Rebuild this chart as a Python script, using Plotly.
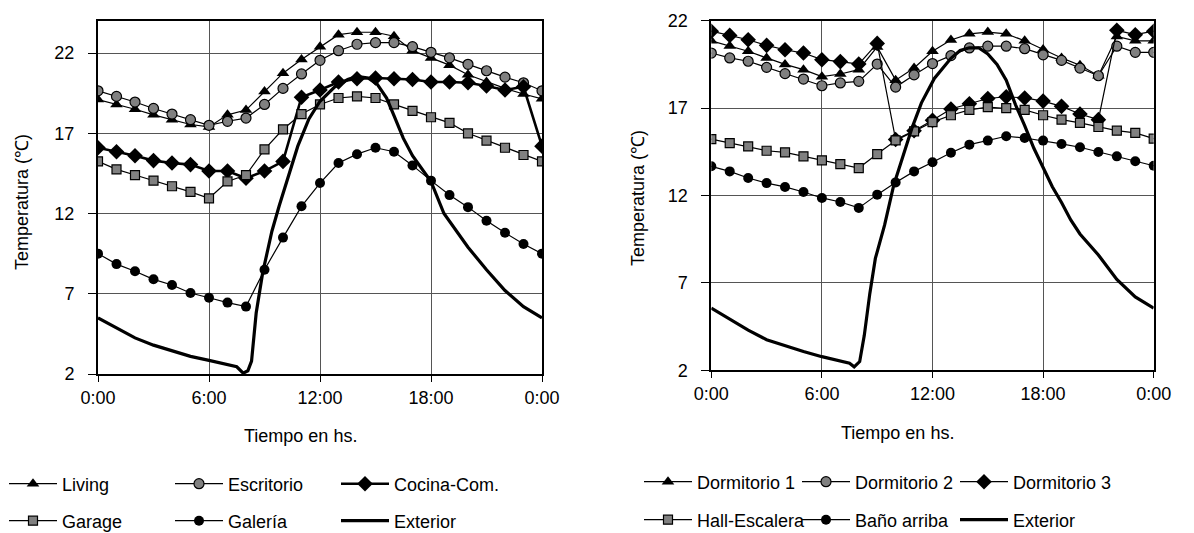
import plotly.graph_objects as go

# ---------------- data ----------------
hours = list(range(25))
tick_vals = [0, 6, 12, 18, 24]
tick_text = ["0:00", "6:00", "12:00", "18:00", "0:00"]
y_ticks_left = [2, 7, 12, 17, 22]
y_ticks_right = [2, 7, 12, 17, 22]

# Left chart (planta baja)
living = [19.1, 18.8, 18.5, 18.15, 17.85, 17.55, 17.4, 18.15, 18.45, 19.6, 20.75, 21.6, 22.4,
          23.15, 23.3, 23.3, 23.05, 22.15, 21.7, 21.25, 20.65, 20.2, 19.8, 19.45, 19.15]
escritorio = [19.65, 19.3, 18.95, 18.55, 18.2, 17.85, 17.5, 17.75, 17.95, 18.8, 19.8, 20.7, 21.55,
              22.15, 22.55, 22.65, 22.65, 22.4, 22.05, 21.7, 21.3, 20.9, 20.5, 20.15, 19.65]
cocina = [16.1, 15.85, 15.6, 15.3, 15.15, 15.05, 14.65, 14.65, 14.2, 14.65, 15.25, 19.25, 19.7,
          20.2, 20.4, 20.45, 20.4, 20.35, 20.2, 20.2, 20.15, 19.95, 19.7, 19.9, 16.2]
garage = [15.25, 14.75, 14.4, 14.05, 13.7, 13.35, 12.95, 14.0, 14.4, 16.0, 17.25, 18.2, 18.8,
          19.2, 19.3, 19.2, 18.8, 18.4, 18.0, 17.65, 17.0, 16.55, 16.1, 15.65, 15.25]
galeria = [9.5, 8.85, 8.4, 7.9, 7.55, 7.05, 6.75, 6.45, 6.2, 8.5, 10.5, 12.45, 13.9,
           15.15, 15.7, 16.1, 15.85, 15.0, 14.05, 13.15, 12.4, 11.55, 10.8, 10.1, 9.5]
ext_left_h = [0, 1, 2, 3, 4, 5, 6, 7, 7.5, 7.85, 8.1, 8.3, 8.55, 8.9, 9.4, 9.8, 10.3, 10.8, 11.4,
              12.0, 12.8, 13.5, 14.0, 14.6, 15.1, 15.6, 16.0, 16.5, 17.0, 17.5, 18.0, 18.7, 19.3,
              20.0, 21.0, 22.0, 23.0, 24.0]
ext_left_v = [5.5, 4.9, 4.25, 3.8, 3.45, 3.1, 2.85, 2.6, 2.45, 2.05, 2.2, 2.8, 5.8, 8.3, 10.9,
              12.5, 14.4, 16.2, 17.9, 19.0, 19.9, 20.35, 20.55, 20.45, 20.05, 19.2, 18.1, 16.7,
              15.6, 14.8, 14.0, 12.0, 11.0, 9.9, 8.5, 7.2, 6.2, 5.5]

# Right chart (planta alta)
dorm1 = [20.85, 20.55, 20.25, 19.87, 19.5, 19.2, 18.8, 18.95, 19.2, 20.5, 18.6, 19.3, 20.25,
         20.9, 21.25, 21.35, 21.25, 20.85, 20.35, 19.87, 19.45, 18.85, 21.1, 20.85, 20.85]
dorm2 = [20.15, 19.87, 19.68, 19.33, 18.97, 18.66, 18.28, 18.44, 18.53, 19.52, 18.2, 18.9, 19.55,
         20.0, 20.44, 20.54, 20.54, 20.4, 20.05, 19.73, 19.29, 18.85, 20.54, 20.19, 20.19]
dorm3 = [21.4, 21.16, 20.91, 20.59, 20.34, 20.15, 19.77, 19.66, 19.52, 20.7, 15.2, 15.7, 16.3,
         16.95, 17.25, 17.55, 17.65, 17.58, 17.4, 17.1, 16.66, 16.34, 21.45, 21.2, 21.4]
hall = [15.23, 15.0, 14.81, 14.56, 14.47, 14.24, 14.01, 13.8, 13.57, 14.37, 15.15, 15.67, 16.2,
        16.59, 16.9, 17.06, 17.0, 16.9, 16.59, 16.34, 16.15, 15.92, 15.71, 15.58, 15.25]
bano = [13.67, 13.38, 13.0, 12.71, 12.49, 12.2, 11.86, 11.63, 11.29, 12.05, 12.75, 13.38, 13.9,
        14.45, 14.91, 15.14, 15.39, 15.29, 15.14, 14.95, 14.76, 14.49, 14.24, 13.96, 13.7]
ext_right_h = [0, 1, 2, 3, 4, 5, 6, 7, 7.5, 7.75, 8.05, 8.3, 8.6, 8.9, 9.4, 9.9, 10.4, 10.9, 11.4,
               12.1, 13.0, 13.5, 14.0, 14.5, 15.0, 15.5, 16.0, 16.5, 17.0, 17.5, 18.0, 18.5,
               19.0, 19.5, 20.0, 21.0, 22.0, 23.0, 24.0]
ext_right_v = [5.56, 4.95, 4.3, 3.75, 3.4, 3.08, 2.78, 2.55, 2.4, 2.2, 2.5, 4.0, 6.4, 8.4, 10.3,
               12.6, 14.3, 15.9, 17.3, 18.7, 19.85, 20.3, 20.45, 20.45, 20.1, 19.5, 18.6, 17.2,
               16.0, 14.7, 13.6, 12.5, 11.6, 10.6, 9.8, 8.6, 7.2, 6.2, 5.56]

# ---------------- styles ----------------
FONT = "Liberation Sans, Arial, sans-serif"
GREY = "#808080"
BLACK = "#000000"

def tri():
    return dict(symbol="triangle-up", size=11, color=BLACK)

def gcirc():
    return dict(symbol="circle", size=10, color=GREY, line=dict(color=BLACK, width=1.2))

def diam():
    return dict(symbol="diamond", size=12, color=BLACK)

def gsq():
    return dict(symbol="square", size=9, color=GREY, line=dict(color=BLACK, width=1.2))

def bcirc():
    return dict(symbol="circle", size=10, color=BLACK)

fig = go.Figure()

def add(x, y, name, marker, width, xa, ya, leg, mode="lines+markers"):
    fig.add_trace(go.Scatter(
        x=x, y=y, name=name, mode=mode, xaxis=xa, yaxis=ya, legend=leg,
        line=dict(color=BLACK, width=width),
        marker=marker if marker else None,
    ))

# left chart
add(hours, living, "Living", tri(), 1.2, "x", "y", "legend")
add(hours, escritorio, "Escritorio", gcirc(), 1.2, "x", "y", "legend")
add(hours, cocina, "Cocina-Com.", diam(), 2.6, "x", "y", "legend")
add(hours, garage, "Garage", gsq(), 1.2, "x", "y", "legend2")
add(hours, galeria, "Galería", bcirc(), 1.2, "x", "y", "legend2")
add(ext_left_h, ext_left_v, "Exterior", None, 3.2, "x", "y", "legend2", mode="lines")

# right chart
add(hours, dorm1, "Dormitorio 1", tri(), 1.2, "x2", "y2", "legend3")
add(hours, dorm2, "Dormitorio 2", gcirc(), 1.2, "x2", "y2", "legend3")
add(hours, dorm3, "Dormitorio 3", diam(), 1.2, "x2", "y2", "legend3")
add(hours, hall, "Hall-Escalera", gsq(), 1.2, "x2", "y2", "legend4")
add(hours, bano, "Baño arriba", bcirc(), 1.2, "x2", "y2", "legend4")
add(ext_right_h, ext_right_v, "Exterior", None, 3.2, "x2", "y2", "legend4", mode="lines")

W, H = 1194, 533

def xax(domain):
    return dict(domain=domain, range=[0, 24], tickvals=tick_vals, ticktext=tick_text,
                showgrid=True, gridcolor="#555555", gridwidth=1, zeroline=False,
                showline=True, linecolor=BLACK, linewidth=2, mirror=True,
                ticks="outside", ticklen=6, tickcolor=BLACK, tickwidth=1,
                ticklabelstandoff=0,
                tickfont=dict(family=FONT, size=18, color=BLACK))

def yax(domain, rng, tv, anchor):
    return dict(domain=domain, range=rng, tickvals=tv, anchor=anchor,
                showgrid=True, gridcolor="#555555", gridwidth=1, zeroline=False,
                showline=True, linecolor=BLACK, linewidth=2, mirror=True,
                ticks="outside", ticklen=8, tickcolor=BLACK, tickwidth=1,
                ticklabelstandoff=10,
                tickfont=dict(family=FONT, size=18, color=BLACK))

def leg(x, ycen, ew):
    return dict(orientation="h", x=x, xanchor="left", y=ycen, yanchor="middle",
                entrywidth=ew, entrywidthmode="pixels", itemwidth=48,
                font=dict(family=FONT, size=18, color=BLACK),
                bgcolor="rgba(0,0,0,0)", borderwidth=0, traceorder="normal")

fig.update_layout(
    width=W, height=H, margin=dict(l=0, r=0, t=0, b=0, autoexpand=False),
    paper_bgcolor="white", plot_bgcolor="white",
    font=dict(family=FONT, size=18, color=BLACK),
    xaxis=xax([90 / W, 534 / W]),
    yaxis=yax([(H - 366) / H, (H - 13) / H], [2, 24], y_ticks_left, "x"),
    xaxis2=dict(xax([703.3 / W, 1145.7 / W]), anchor="y2"),
    yaxis2=yax([(H - 362.3) / H, (H - 12.7) / H], [2, 22], y_ticks_right, "x2"),
    legend=leg(-4 / W, (H - 476) / H, 103),
    legend2=leg(-4 / W, (H - 513) / H, 103),
    legend3=leg(631 / W, (H - 474) / H, 95),
    legend4=leg(631 / W, (H - 512) / H, 95),
    annotations=[
        dict(text="Tiempo en hs.", xref="paper", yref="paper", x=292 / W, y=(H - 428) / H,
             showarrow=False, xanchor="center", yanchor="middle",
             font=dict(family=FONT, size=18, color=BLACK)),
        dict(text="Tiempo en hs.", xref="paper", yref="paper", x=889 / W, y=(H - 425) / H,
             showarrow=False, xanchor="center", yanchor="middle",
             font=dict(family=FONT, size=18, color=BLACK)),
        dict(text="Temperatura (℃)", xref="paper", yref="paper", x=14 / W, y=(H - 194) / H,
             showarrow=False, xanchor="center", yanchor="middle", textangle=-90,
             font=dict(family=FONT, size=18, color=BLACK)),
        dict(text="Temperatura (℃)", xref="paper", yref="paper", x=630 / W, y=(H - 190) / H,
             showarrow=False, xanchor="center", yanchor="middle", textangle=-90,
             font=dict(family=FONT, size=18, color=BLACK)),
    ],
)

fig.write_html("out.html")
